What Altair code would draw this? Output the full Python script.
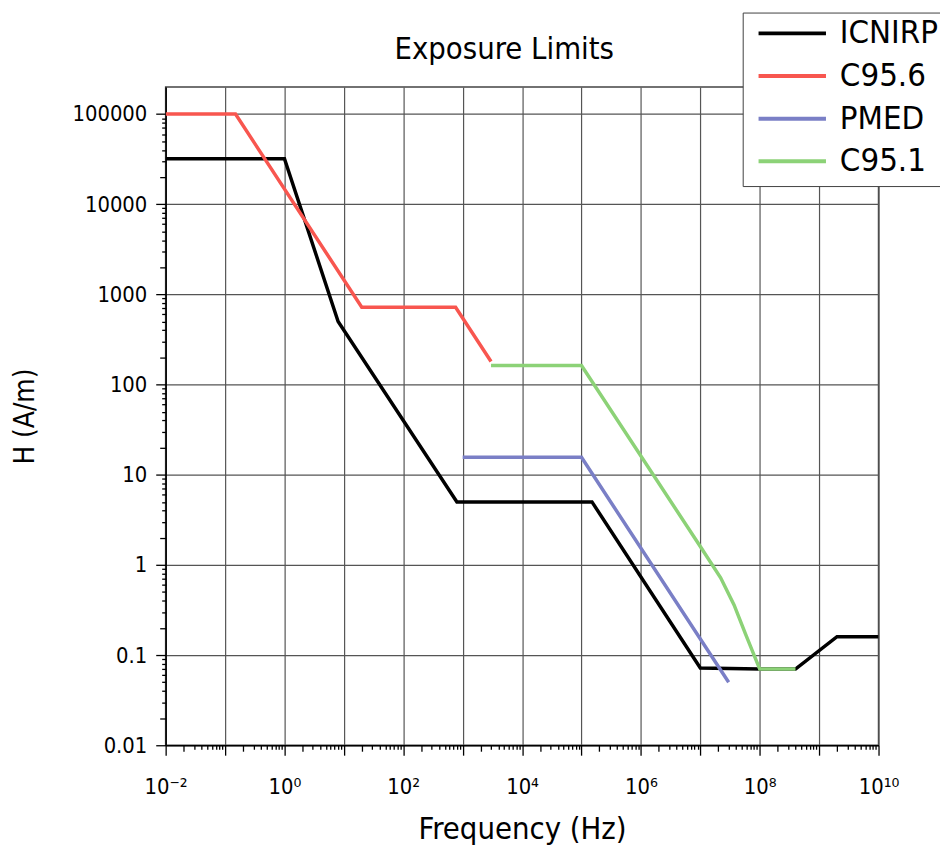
import altair as alt
import pandas as pd

FONT = "DejaVu Sans Condensed, DejaVu Sans"

SERIES = ["ICNIRP", "C95.6", "PMED", "C95.1"]
COLORS = ["#000000", "#f8564f", "#7a7fc6", "#8cd277"]

ICNIRP_F = [0.01, 1, 8, 800, 1.5e5, 1e7, 1e8, 4e8, 2e9, 1e10]
ICNIRP_H = [32000, 32000, 500, 5, 5, 0.072, 0.07, 0.07, 0.16, 0.16]
C956_F = [0.01, 0.15, 20, 760, 3000]
C956_H = [100000, 100000, 720, 720, 180]
PMED_F = [1000, 1e5, 3e7]
PMED_H = [15.6, 15.6, 0.05]
C951_F = [3000, 1e5, 1e7, 2.2e7, 3.7e7, 5.8e7, 1e8, 4e8]
C951_H = [163, 163, 1.6, 0.72, 0.36, 0.17, 0.07, 0.07]

X_EXPONENTS = list(range(-2, 11))
X_TICK_LABELS = ["10⁻²", "", "10⁰", "", "10²", "", "10⁴", "", "10⁶", "", "10⁸", "", "10¹⁰"]
Y_EXPONENTS = list(range(-2, 6))
Y_TICK_LABELS = ["0.01", "0.1", "1", "10", "100", "1000", "10000", "100000"]
MINOR_MULT_2 = [2]
MINOR_MULT = [3, 4, 5, 6, 7, 8, 9]

X_MAJOR = [10.0 ** k for k in X_EXPONENTS]
X_MINOR2 = [m * 10.0 ** k for k in X_EXPONENTS[:-1] for m in MINOR_MULT_2]
X_MINOR = [m * 10.0 ** k for k in X_EXPONENTS[:-1] for m in MINOR_MULT]
Y_MAJOR = [10.0 ** k for k in Y_EXPONENTS]
Y_MINOR2 = [m * 10.0 ** k for k in Y_EXPONENTS for m in MINOR_MULT_2 if m * 10.0 ** k < 2e5]
Y_MINOR = [m * 10.0 ** k for k in Y_EXPONENTS for m in MINOR_MULT if m * 10.0 ** k < 2e5]

rows = []
for name, fs, hs in [("ICNIRP", ICNIRP_F, ICNIRP_H), ("C95.6", C956_F, C956_H),
                     ("PMED", PMED_F, PMED_H), ("C95.1", C951_F, C951_H)]:
    for f, h in zip(fs, hs):
        rows.append({"series": name, "f": f, "h": h})
df = pd.DataFrame(rows)

xscale = alt.Scale(type="log", domain=[0.01, 1e10], nice=False)
yscale = alt.Scale(type="log", domain=[0.01, 2e5], nice=False)

x_label_expr = "[" + ",".join("'%s'" % s for s in X_TICK_LABELS) + "][round(log(datum.value)/LN10)+2]"
y_label_expr = "[" + ",".join("'%s'" % s for s in Y_TICK_LABELS) + "][round(log(datum.value)/LN10)+2]"

lines = alt.Chart(df).mark_line(strokeWidth=3.5, clip=True).encode(
    x=alt.X("f:Q", scale=xscale, title="Frequency (Hz)",
            axis=alt.Axis(values=X_MAJOR, labelExpr=x_label_expr, grid=True, tickSize=10,
                          labelPadding=22, titlePadding=17, titleFontSize=31,
                          labelOverlap=False, labelFlush=False, orient="bottom")),
    y=alt.Y("h:Q", scale=yscale, title="H (A/m)",
            axis=alt.Axis(values=Y_MAJOR, labelExpr=y_label_expr, grid=True, tickSize=10,
                          labelPadding=9, titlePadding=33, titleFontSize=28,
                          labelOverlap=False, labelFlush=False, orient="left")),
    color=alt.Color("series:N", scale=alt.Scale(domain=SERIES, range=COLORS),
                    sort=SERIES,
                    legend=alt.Legend(title=None, orient="none", legendX=582, legendY=-75,
                                      symbolType="stroke", symbolSize=4624, symbolStrokeWidth=4,
                                      labelFontSize=33, labelFont=FONT, labelOffset=12,
                                      rowPadding=10, clipHeight=26, padding=8, symbolOffset=6,
                                      strokeColor="#404040", fillColor="white",
                                      labelColor="#000000")),
)


def minor_layer(xv, yv, size):
    return alt.Chart(df).mark_point(opacity=0).encode(
        x=alt.X("f:Q", scale=xscale, title=None,
                axis=alt.Axis(values=xv, labels=False, grid=False, domain=False,
                              tickSize=size, orient="bottom")),
        y=alt.Y("h:Q", scale=yscale, title=None,
                axis=alt.Axis(values=yv, labels=False, grid=False, domain=False,
                              tickSize=size, orient="left")),
    )


chart = alt.layer(
    lines,
    minor_layer(X_MINOR2, Y_MINOR2, 6),
    minor_layer(X_MINOR, Y_MINOR, 4),
).resolve_axis(x="independent", y="independent").properties(
    width=719,
    height=664,
    autosize=alt.AutoSizeParams(type="none"),
    padding={"left": 159, "top": 76, "right": 62, "bottom": 97},
    title=alt.TitleParams(text="Exposure Limits", fontSize=31, font=FONT, fontWeight="normal",
                          dx=-18, offset=-54, anchor="middle", frame="group", color="#000000"),
).configure_view(
    stroke="#444444", strokeWidth=1.5
).configure_axis(
    labelFont=FONT, titleFont=FONT, labelFontSize=22,
    titleFontWeight="normal", labelColor="#000000", titleColor="#000000",
    domainColor="#000000", domainWidth=1.5, tickColor="#000000", tickWidth=1.3,
    gridColor="#555555", gridWidth=1.2, gridOpacity=1,
)

chart.save("out.html", embed_options={"renderer": "svg", "actions": False})
